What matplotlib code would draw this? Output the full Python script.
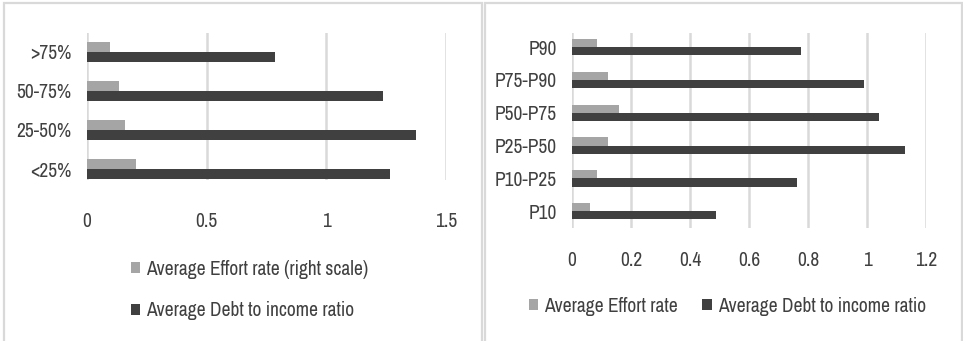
import numpy as np
import matplotlib.pyplot as plt
from matplotlib.patches import Rectangle

plt.rcParams['font.family'] = ['Archivo Narrow', 'Carlito', 'DejaVu Sans']

# left panel: by quartile
quart_labels = ['<25%', '25-50%', '50-75%', '>75%']
quart_effort = [0.205, 0.16, 0.133, 0.097]
quart_debt = [1.265, 1.373, 1.237, 0.785]

# right panel: by percentile band
pct_labels = ['P10', 'P10-P25', 'P25-P50', 'P50-P75', 'P75-P90', 'P90']
pct_effort = [0.062, 0.085, 0.121, 0.158, 0.121, 0.085]
pct_debt = [0.489, 0.762, 1.13, 1.042, 0.99, 0.776]

c_effort = '#a5a5a5'
c_debt = '#404040'
c_grid = '#d9d9d9'
fs = 14

W, H = 963, 341
fig = plt.figure(figsize=(W / 100, H / 100), dpi=100)


def px_axes(x0, y0, x1, y1):
    # axes from pixel box (top-left origin)
    return fig.add_axes([x0 / W, 1 - y1 / H, (x1 - x0) / W, (y1 - y0) / H])


def draw_bars(ax, labels, effort, debt, bh):
    y = np.arange(len(labels))
    ax.barh(y + bh / 2, effort, height=bh, color=c_effort,
            label='Average Effort rate', zorder=3)
    ax.barh(y - bh / 2, debt, height=bh, color=c_debt,
            label='Average Debt to income ratio', zorder=3)
    ax.set_yticks(y)
    ax.set_yticklabels(labels)
    for s in ax.spines.values():
        s.set_visible(False)
    ax.grid(axis='x', color=c_grid, linewidth=1.8, zorder=0)
    ax.tick_params(length=0, labelsize=fs, labelcolor='#404040')
    return y


# panel frames
for x0, x1 in [(4, 482), (485, 962)]:
    fig.add_artist(Rectangle((x0 / W, -0.1), (x1 - x0) / W, 1.1 - 3 / H,
                             transform=fig.transFigure, fill=False,
                             edgecolor=c_grid, linewidth=1.6))

ax1 = px_axes(87, 33, 446, 180)
draw_bars(ax1, quart_labels, quart_effort, quart_debt, 0.26)
ax1.set_xlim(0, 1.5)
ax1.set_xticks([0, 0.5, 1, 1.5])
ax1.set_xticklabels(['0', '0.5', '1', '1.5'])
ax1.set_ylim(-0.28, 3.48)
ax1.tick_params(axis='x', pad=23)
ax1.tick_params(axis='y', pad=11)
h, l = ax1.get_legend_handles_labels()
ax1.legend(h, ['Average Effort rate (right scale)', 'Average Debt to income ratio'],
           loc='center left', bbox_to_anchor=(113 / W, 1 - 290 / H),
           bbox_transform=fig.transFigure, frameon=False, fontsize=fs,
           handlelength=0.5, handleheight=0.5, handletextpad=0.3,
           labelspacing=1.15, labelcolor='#404040')

ax2 = px_axes(572, 33, 926, 228)
draw_bars(ax2, pct_labels, pct_effort, pct_debt, 0.25)
ax2.set_xlim(0, 1.2)
ax2.set_xticks([0, 0.2, 0.4, 0.6, 0.8, 1, 1.2])
ax2.set_xticklabels(['0', '0.2', '0.4', '0.6', '0.8', '1', '1.2'])
ax2.set_ylim(-0.51, 5.43)
ax2.tick_params(axis='x', pad=16.5)
ax2.tick_params(axis='y', pad=11)
ax2.legend(loc='center left', bbox_to_anchor=(511 / W, 1 - 306 / H),
           bbox_transform=fig.transFigure, frameon=False, fontsize=fs, ncol=2,
           handlelength=0.5, handleheight=0.5, handletextpad=0.3,
           columnspacing=1.25, labelcolor='#404040')

fig.savefig('out.png', dpi=100, facecolor='white')
